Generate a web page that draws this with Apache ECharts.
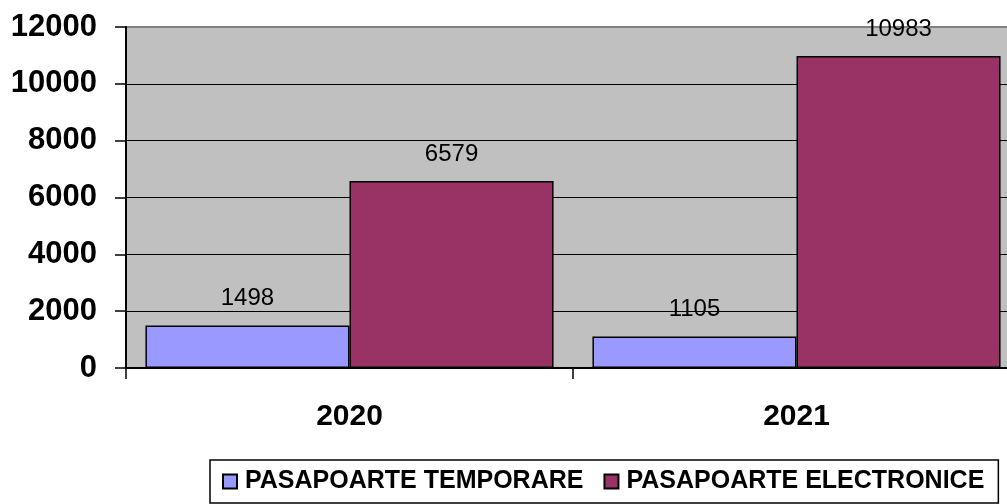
<!DOCTYPE html>
<html>
<head>
<meta charset="utf-8">
<script src="https://cdn.jsdelivr.net/npm/echarts@6/dist/echarts.min.js"></script>
<style>
html,body{margin:0;padding:0;background:#fff;}
#chart{width:1007px;height:504px;}
</style>
</head>
<body>
<div id="chart"></div>
<script>
const categories = ['2020', '2021'];
const temporare = [1498, 1105];
const electronice = [6579, 10983];
const seriesNames = ['PASAPOARTE TEMPORARE', 'PASAPOARTE ELECTRONICE'];
const yTicks = { min: 0, max: 12000, interval: 2000 };

const chart = echarts.init(document.getElementById('chart'), null, { renderer: 'canvas' });
const font = 'Arial, "Liberation Sans", sans-serif';
const labelCfg = {
  show: true, position: 'top', distance: 15,
  fontFamily: font, fontSize: 24, color: '#000'
};
chart.setOption({
  animation: false,
  backgroundColor: '#fff',
  grid: {
    left: 126, top: 27, width: 894, height: 341,
    outerBoundsMode: 'none', containLabel: false,
    show: true, backgroundColor: '#C0C0C0', borderColor: '#808080', borderWidth: 2
  },
  legend: {
    left: 210, top: 460, right: 0,
    padding: [9, 14, 9, 12],
    itemGap: 20, itemWidth: 14, itemHeight: 14,
    borderColor: '#000', borderWidth: 1.5,
    icon: 'rect',
    textStyle: { fontFamily: font, fontSize: 25, fontWeight: 'bold', color: '#000', padding: [0, 0, 0, 3] },
    data: seriesNames
  },
  xAxis: {
    type: 'category', data: categories,
    axisLine: { lineStyle: { color: '#000', width: 2 } },
    axisTick: { show: true, length: 11, lineStyle: { color: '#000', width: 1.5 } },
    axisLabel: { margin: 34, fontFamily: font, fontSize: 30, fontWeight: 'bold', color: '#000' }
  },
  yAxis: {
    type: 'value', min: yTicks.min, max: yTicks.max, interval: yTicks.interval,
    axisLine: { show: true, lineStyle: { color: '#000', width: 2 } },
    axisTick: { show: true, length: 11, lineStyle: { color: '#000', width: 1.5 } },
    splitLine: { show: true, showMaxLine: false, lineStyle: { color: '#000', width: 1 } },
    axisLabel: { margin: 29, fontFamily: font, fontSize: 31, fontWeight: 'bold', color: '#000',
      formatter: v => String(v) }
  },
  series: [
    {
      name: seriesNames[0], type: 'bar', data: temporare,
      barGap: '0%', barCategoryGap: '8.7%',
      itemStyle: { color: '#9999FF', borderColor: '#000', borderWidth: 1.5 },
      label: labelCfg
    },
    {
      name: seriesNames[1], type: 'bar', data: electronice,
      barGap: '0%', barCategoryGap: '8.7%',
      itemStyle: { color: '#993366', borderColor: '#000', borderWidth: 1.5 },
      label: labelCfg
    }
  ]
});
</script>
</body>
</html>
